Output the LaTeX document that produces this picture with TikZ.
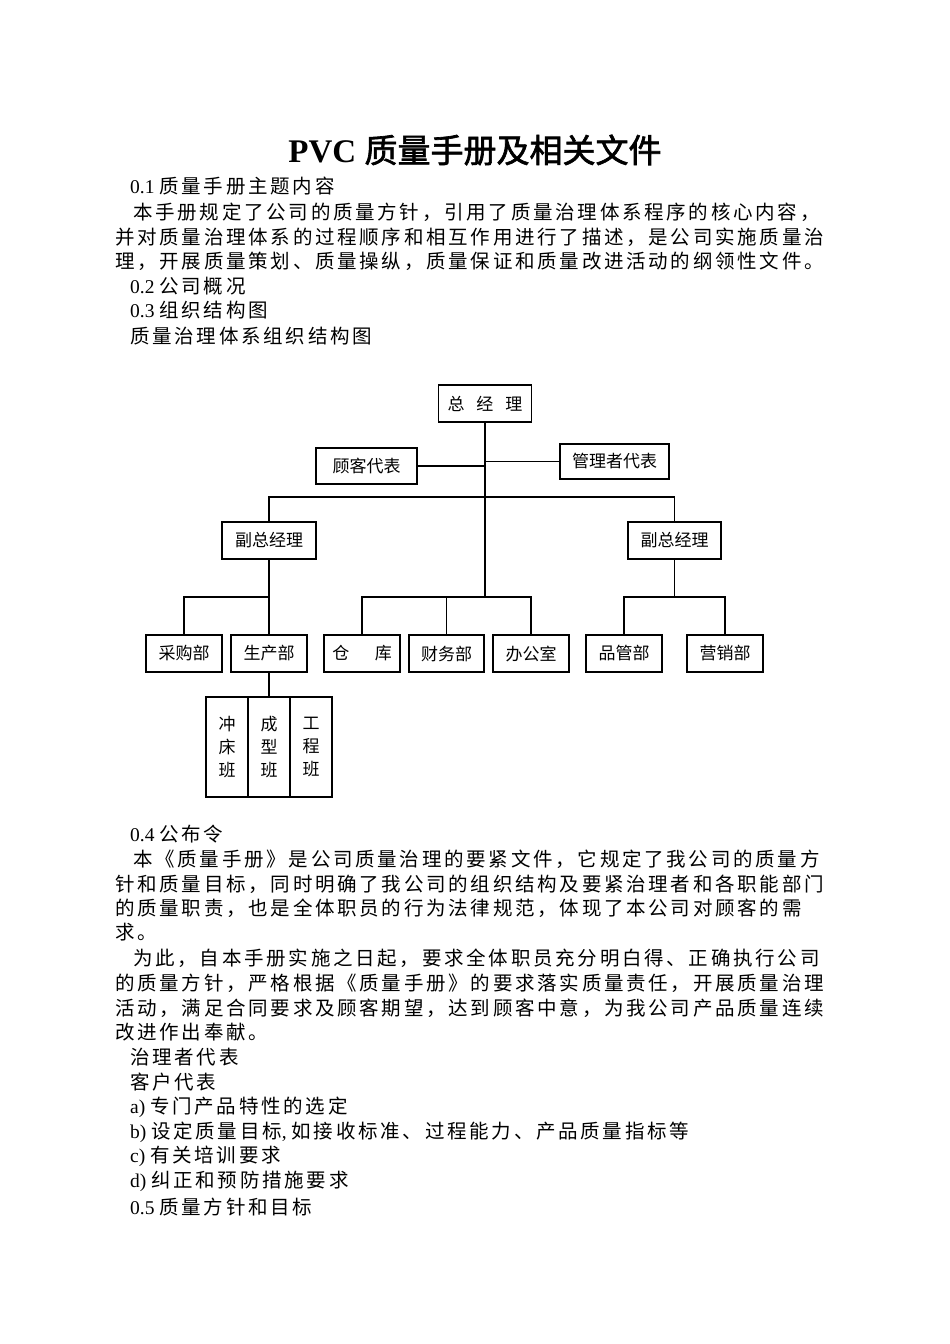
\documentclass[tikz,border=0pt]{standalone}
\usepackage{fontspec}
\setmainfont{Liberation Serif}
\newfontfamily\cjk[LetterSpace=14]{Noto Sans CJK SC}
\newfontfamily\cjkbox{Noto Sans CJK SC}
\newfontfamily\cjkb[FakeBold=2]{Noto Sans CJK SC}
\begin{document}
\begin{tikzpicture}[x=1pt,y=-1pt,
  line/.style={anchor=west,inner sep=0pt,font=\fontsize{19.5}{22}\selectfont},
  box/.style={draw,line width=1.1pt,inner sep=0pt,font=\cjkbox\fontsize{17}{19}\selectfont},
  cls/.style={box,minimum width=42pt,minimum height=100pt,align=center,font=\cjkbox\fontsize{17}{23}\selectfont},
  conn/.style={line width=1.1pt}]
\useasboundingbox (0,0) rectangle (950,1344);
\node[inner sep=0pt,font=\fontsize{33}{36}\selectfont] (title) at (475,150) {\textbf{PVC} {\cjkb 质量手册及相关文件}};
\node[line] (l1) at (130,186) {0.1 {\cjk 质量手册主题内容}};
\node[line] (l2) at (133,212) {\cjk 本手册规定了公司的质量方针，引用了质量治理体系程序的核心内容，};
\node[line] (l3) at (115,237) {\cjk 并对质量治理体系的过程顺序和相互作用进行了描述，是公司实施质量治};
\node[line] (l4) at (115,261) {\cjk 理，开展质量策划、质量操纵，质量保证和质量改进活动的纲领性文件。};
\node[line] (l5) at (130,286) {0.2 {\cjk 公司概况}};
\node[line] (l6) at (130,310) {0.3 {\cjk 组织结构图}};
\node[line] (l7) at (130,336) {\cjk 质量治理体系组织结构图};
\node[line] (l8) at (130,834) {0.4 {\cjk 公布令}};
\node[line] (l9) at (133,859) {\cjk 本《质量手册》是公司质量治理的要紧文件，它规定了我公司的质量方};
\node[line] (l10) at (115,884) {\cjk 针和质量目标，同时明确了我公司的组织结构及要紧治理者和各职能部门};
\node[line] (l11) at (115,908) {\cjk 的质量职责，也是全体职员的行为法律规范，体现了本公司对顾客的需};
\node[line] (l12) at (115,932) {\cjk 求。};
\node[line] (l13) at (133,958) {\cjk 为此，自本手册实施之日起，要求全体职员充分明白得、正确执行公司};
\node[line] (l14) at (115,983) {\cjk 的质量方针，严格根据《质量手册》的要求落实质量责任，开展质量治理};
\node[line] (l15) at (115,1008) {\cjk 活动，满足合同要求及顾客期望，达到顾客中意，为我公司产品质量连续};
\node[line] (l16) at (115,1032) {\cjk 改进作出奉献。};
\node[line] (l17) at (130,1057) {\cjk 治理者代表};
\node[line] (l18) at (130,1082) {\cjk 客户代表};
\node[line] (l19) at (130,1107) {a) {\cjk 专门产品特性的选定}};
\node[line] (l20) at (130,1132) {b) {\cjk 设定质量目标}, {\cjk 如接收标准、过程能力、产品质量指标等}};
\node[line] (l21) at (130,1156) {c) {\cjk 有关培训要求}};
\node[line] (l22) at (130,1181) {d) {\cjk 纠正和预防措施要求}};
\node[line] (l23) at (130,1207) {0.5 {\cjk 质量方针和目标}};
% chart
\node[box,minimum width=93pt,minimum height=37pt] (gm) at (485,403.5) {总\hspace{0.7em}经\hspace{0.7em}理};
\node[box,minimum width=101pt,minimum height=36pt] (cr) at (366.5,466) {顾客代表};
\node[box,minimum width=109pt,minimum height=35pt] (mr) at (614.5,461.5) {管理者代表};
\node[box,minimum width=94pt,minimum height=37pt] (vpl) at (269,540.5) {副总经理};
\node[box,minimum width=93pt,minimum height=37pt] (vpr) at (674.5,540.5) {副总经理};
\node[box,minimum width=76pt,minimum height=37pt] (cg) at (184,653.5) {采购部};
\node[box,minimum width=76pt,minimum height=37pt] (sc) at (269,653.5) {生产部};
\node[box,minimum width=76pt,minimum height=37pt] (ck) at (362,653.5) {仓\hspace{1.5em}库};
\node[box,minimum width=75pt,minimum height=37pt] (cw) at (446.5,653.5) {财务部};
\node[box,minimum width=76pt,minimum height=37pt] (bg) at (531,653.5) {办公室};
\node[box,minimum width=76pt,minimum height=37pt] (pg) at (624,653.5) {品管部};
\node[box,minimum width=76pt,minimum height=37pt] (yx) at (725,653.5) {营销部};
\node[cls] (c1) at (227,747) {冲\\床\\班};
\node[cls] (c2) at (269,747) {成\\型\\班};
\node[cls] (c3) at (311,747) {工\\程\\班};
\coordinate (bar) at (0,597);
\coordinate (top) at (0,497);
\draw[conn] (gm.south) -- (gm.south |- bar);
\draw[conn] (cr.east) -- (cr.east -| gm.south);
\draw[conn] (mr.west) -- (mr.west -| gm.south);
\draw[conn] (vpl.north) |- (vpl.north |- top) -- (vpr.north |- top) -- (vpr.north);
\draw[conn] (vpl.south) -- (vpl.south |- bar);
\draw[conn] (cg.north) |- (sc.north |- bar) -- (sc.north);
\draw[conn] (ck.north) |- (bg.north |- bar) -- (bg.north);
\draw[conn] (cw.north) -- (cw.north |- bar);
\draw[conn] (vpr.south) -- (vpr.south |- bar);
\draw[conn] (pg.north) |- (yx.north |- bar) -- (yx.north);
\draw[conn] (sc.south) -- (c2.north);
\end{tikzpicture}
\end{document}
